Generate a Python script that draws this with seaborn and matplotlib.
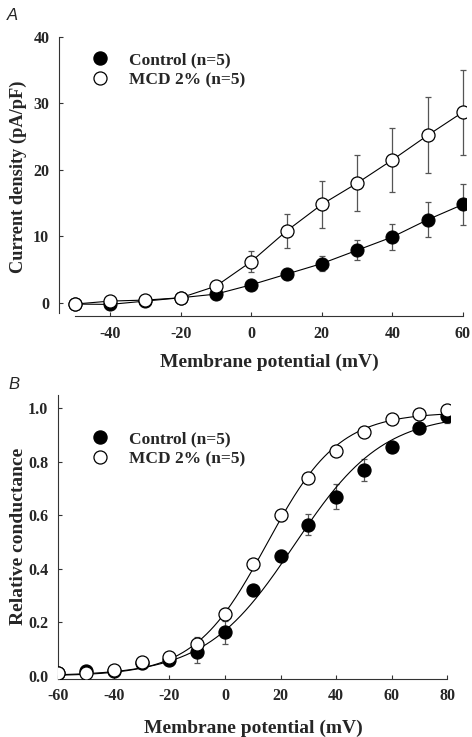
import numpy as np
import pandas as pd
import matplotlib
matplotlib.use("Agg")
import matplotlib.pyplot as plt
from matplotlib.lines import Line2D
import seaborn as sns

# painel A: densidade de corrente (pA/pF)
volt_a = [-50, -40, -30, -20, -10, 0, 10, 20, 30, 40, 50, 60]
ctrl_a = [-0.2, -0.25, 0.25, 0.75, 1.3, 2.7, 4.3, 5.9, 7.9, 9.9, 12.5, 14.8]
ctrl_a_err = [0.1, 0.1, 0.1, 0.1, 0.3, 0.4, 0.6, 1.15, 1.5, 2.0, 2.6, 3.1]
mcd_a = [-0.2, 0.25, 0.4, 0.75, 2.5, 6.2, 10.8, 14.8, 18.0, 21.5, 25.2, 28.7]
mcd_a_err = [0.1, 0.1, 0.1, 0.2, 0.4, 1.6, 2.6, 3.5, 4.2, 4.8, 5.7, 6.4]

# painel B: condutância relativa
volt_b = [-60, -50, -40, -30, -20, -10, 0, 10, 20, 30, 40, 50, 60, 70, 80]
ctrl_b = [0.012, 0.02, 0.02, 0.05, 0.06, 0.09, 0.165, 0.32, 0.45, 0.565, 0.67, 0.77, 0.856, 0.928, 0.97]
ctrl_b_err = [0.005, 0.005, 0.005, 0.01, 0.015, 0.04, 0.045, 0.015, 0.02, 0.04, 0.046, 0.04, 0.015, 0.015, 0.025]
mcd_b = [0.01, 0.01, 0.022, 0.052, 0.07, 0.12, 0.23, 0.42, 0.60, 0.74, 0.84, 0.91, 0.96, 0.98, 0.995]
mcd_b_err = [0.005, 0.005, 0.005, 0.01, 0.01, 0.025, 0.025, 0.01, 0.02, 0.02, 0.01, 0.01, 0.01, 0.01, 0.01]

# ajuste de Boltzmann: Gmax, V1/2, k
ctrl_fit = (0.98, 25.0, 16.0)
mcd_fit = (0.985, 15.0, 13.0)

labels = ["Control (n=5)", "MCD 2% (n=5)"]

sns.set_theme(style="white")
plt.rcParams["font.family"] = ["Liberation Serif", "DejaVu Serif"]
plt.rcParams["font.weight"] = "bold"
plt.rcParams["axes.unicode_minus"] = False

fig = plt.figure(figsize=(4.72, 7.37), dpi=100)
ax_a = fig.add_axes([0.125, 0.5712, 0.8633, 0.3786])
ax_b = fig.add_axes([0.1227, 0.0791, 0.8303, 0.3851])

ms = 9.4
edge = "#333333"


def style_axes(ax):
    for s in ["top", "right"]:
        ax.spines[s].set_visible(False)
    for s in ["left", "bottom"]:
        ax.spines[s].set_color(edge)
        ax.spines[s].set_linewidth(0.8)
    ax.tick_params(direction="in", length=3, width=0.8, color=edge,
                   labelsize=11.5, pad=7, left=True, bottom=True)
    for t in ax.get_xticklabels() + ax.get_yticklabels():
        t.set_fontweight("bold")


def legend(ax, x, y):
    h = [Line2D([], [], ls="none", marker="o", ms=ms, mfc="black", mec="black"),
         Line2D([], [], ls="none", marker="o", ms=ms, mfc="white", mec="black", mew=0.9)]
    ax.legend(h, labels, loc="upper left", bbox_to_anchor=(x, y), frameon=False,
              borderpad=0, borderaxespad=0, handlelength=1.0, handletextpad=1.2,
              labelspacing=0.22, prop={"family": "Liberation Serif", "weight": "bold", "size": 12.5})


# ---- painel A ----
df_a = pd.DataFrame({"v": volt_a, "ctrl": ctrl_a, "mcd": mcd_a})
ax_a.errorbar(volt_a, mcd_a, yerr=mcd_a_err, fmt="none", ecolor="#555555",
              elinewidth=0.9, capsize=2.3, capthick=0.9, zorder=1)
ax_a.errorbar(volt_a, ctrl_a, yerr=ctrl_a_err, fmt="none", ecolor="#555555",
              elinewidth=0.9, capsize=2.3, capthick=0.9, zorder=1)
sns.lineplot(data=df_a, x="v", y="ctrl", ax=ax_a, color="black", lw=0.8,
             marker="o", ms=ms, mfc="black", mec="black", zorder=3)
sns.lineplot(data=df_a, x="v", y="mcd", ax=ax_a, color="black", lw=0.8,
             marker="o", ms=ms, mfc="white", mec="black", mew=0.9, zorder=4)
ax_a.set_xlim(-54.5, 61)
ax_a.set_ylim(-2, 40)
ax_a.set_xticks([-40, -20, 0, 20, 40, 60])
ax_a.set_yticks([0, 10, 20, 30, 40])
ax_a.spines["left"].set_bounds(-1.5, 40)
ax_a.spines["bottom"].set_bounds(-50, 60)
style_axes(ax_a)
ax_a.set_xlabel("Membrane potential (mV)", fontsize=14, fontweight="bold", va="center")
ax_a.set_ylabel("Current density (pA/pF)", fontsize=13.2, fontweight="bold", va="center")
ax_a.xaxis.set_label_coords(0.5166, -0.165)
ax_a.yaxis.set_label_coords(-0.1, 0.5)
legend(ax_a, 0.079, 0.946)

# ---- painel B ----
v_fit = np.linspace(-60, 80, 400)
g_ctrl = ctrl_fit[0] / (1 + np.exp((ctrl_fit[1] - v_fit) / ctrl_fit[2]))
g_mcd = mcd_fit[0] / (1 + np.exp((mcd_fit[1] - v_fit) / mcd_fit[2]))
fit_df = pd.DataFrame({"v": v_fit, "ctrl": g_ctrl, "mcd": g_mcd})
sns.lineplot(data=fit_df, x="v", y="ctrl", ax=ax_b, color="black", lw=0.8, zorder=2)
sns.lineplot(data=fit_df, x="v", y="mcd", ax=ax_b, color="black", lw=0.8, zorder=2)

ax_b.errorbar(volt_b, ctrl_b, yerr=ctrl_b_err, fmt="none", ecolor="#555555",
              elinewidth=0.9, capsize=2.3, capthick=0.9, zorder=1)
ax_b.errorbar(volt_b, mcd_b, yerr=mcd_b_err, fmt="none", ecolor="#555555",
              elinewidth=0.9, capsize=2.3, capthick=0.9, zorder=1)
df_b = pd.DataFrame({"v": volt_b, "ctrl": ctrl_b, "mcd": mcd_b})
sns.scatterplot(data=df_b, x="v", y="ctrl", ax=ax_b, s=ms ** 2, color="black",
                edgecolor="black", linewidth=0.9, zorder=3)
sns.scatterplot(data=df_b, x="v", y="mcd", ax=ax_b, s=ms ** 2, color="white",
                edgecolor="black", linewidth=0.9, zorder=4)
ax_b.set_xlim(-60.2, 81)
ax_b.set_ylim(-0.01, 1.05)
ax_b.set_xticks(np.arange(-60, 81, 20))
ax_b.set_yticks([0, 0.2, 0.4, 0.6, 0.8, 1.0])
ax_b.set_yticklabels(["0.0", "0.2", "0.4", "0.6", "0.8", "1.0"])
ax_b.spines["bottom"].set_bounds(-60, 80)
style_axes(ax_b)
ax_b.set_xlabel("Membrane potential (mV)", fontsize=14, fontweight="bold", va="center")
ax_b.set_ylabel("Relative conductance", fontsize=14, fontweight="bold", va="center")
ax_b.xaxis.set_label_coords(0.5, -0.174)
ax_b.yaxis.set_label_coords(-0.0995, 0.5)
legend(ax_b, 0.085, 0.873)

# letras dos painéis
fig.text(12 / 472, 1 - 15.5 / 737, "A", fontsize=12, style="italic", fontweight="normal",
         family="Liberation Sans", ha="center", va="center")
fig.text(14 / 472, 1 - 385 / 737, "B", fontsize=12, style="italic", fontweight="normal",
         family="Liberation Sans", ha="center", va="center")

fig.savefig("out.png", dpi=100)
plt.close(fig)
